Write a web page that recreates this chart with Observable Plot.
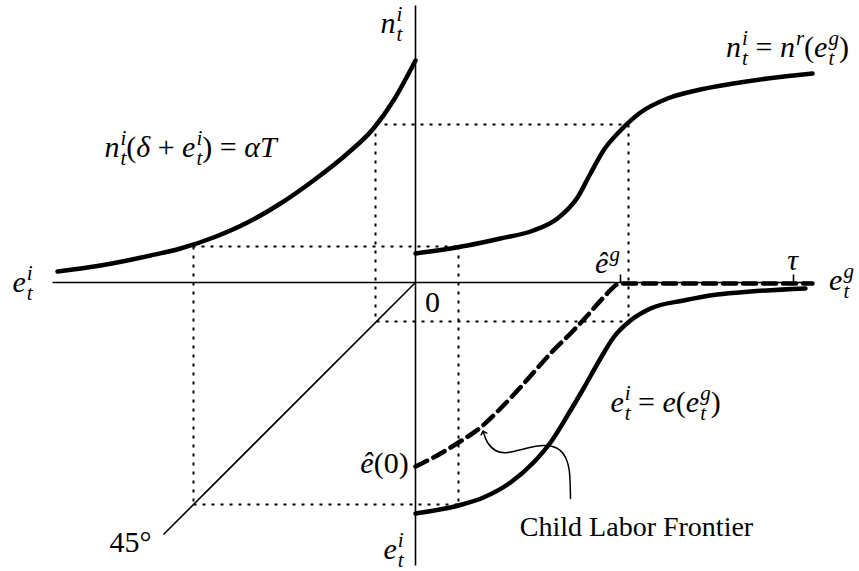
<!DOCTYPE html>
<html><head><meta charset="utf-8">
<script src="https://cdn.jsdelivr.net/npm/d3@7"></script>
<script src="https://cdn.jsdelivr.net/npm/@observablehq/plot@0.6"></script>
<style>body{margin:0;background:#fff}</style>
</head><body><div id="chart"></div>
<script>
// Upper-left quadrant: n(δ+e) = αT
const budgetX = [-358,-315,-265,-235,-202,-168,-135,-102,-68,-42,-22,0];
const budgetY = [11,17,27,34,45,60,79,102,129,154,182,222];
// Upper-right: n = n^r(e^g)
const fertilityX = [0,52,85,118,142,162,175,188,205,225,252,285,318,352,397];
const fertilityY = [29,37,44,52,64,85,109,132,152,170,184,193,199,204,209];
// Lower-right dashed: child labor frontier
const frontierX = [0,18,43,65,85,102,118,135,155,172,188,205,397];
const frontierY = [-184,-175,-160,-145,-126,-108,-90,-71,-51,-33,-15,-1,-1];
// Lower-right solid: e = e(e^g)
const educationX = [0,43,68,95,118,135,152,168,185,198,215,235,268,302,335,390];
const educationY = [-231,-223,-215,-200,-180,-160,-133,-106,-76,-55,-38,-26,-18,-12,-9,-6];
// annotation arrow
const arrowX = [155,154,150,142,128,110,92,80,72,68];
const arrowY = [-216,-190,-175,-166,-163,-166,-170,-168,-160,-150];
// axes, 45° line, ticks
const lineX1 = [-363, 0, 0, 205, 378];
const lineY1 = [0, -283, 0, 0, 0];
const lineX2 = [397, 0, -252, 205, 378];
const lineY2 = [0, 277, -252, 8, 8];
// dotted guides
const guideX1 = [-40,-40,-39,213,-223,-222,-222,43];
const guideY1 = [158,158,-39,158,36,36,-222,36];
const guideX2 = [213,-40,213,213,43,-222,43,43];
const guideY2 = [158,-39,-39,-39,36,-222,-222,-222];
// labels
const mathLabels = ["n_t^i","n_t^i(δ + e_t^i) = αT","e_t^i","n_t^i = n^r(e_t^g)","ê^g","τ","e_t^g","0","e_t^i = e(e_t^g)","ê(0)","e_t^i","45°"];
const mathX = [-24,-225,-393,372,192,377,426,17,250,-31,-22,-285];
const mathY = [259,135,0,235,19,22,2,-20,-120,-181,-267,-260];
const textLabels = ["Child Labor Frontier"];
const textX = [221];
const textY = [-245];

const pts = (xs, ys) => xs.map((x, i) => ({x, y: ys[i]}));
const segs = (a, b, c, d) => a.map((x1, i) => ({x1, y1: b[i], x2: c[i], y2: d[i]}));
const FONT = "Liberation Serif";
const FS = 30;

const chart = Plot.plot({
  width: 859, height: 571, margin: 0,
  x: {domain: [-415, 444], axis: null},
  y: {domain: [-289, 282], axis: null},
  marks: [
    Plot.link(segs(guideX1, guideY1, guideX2, guideY2), {x1: "x1", y1: "y1", x2: "x2", y2: "y2", stroke: "black", strokeWidth: 2, strokeDasharray: "3,6"}),
    Plot.link(segs(lineX1, lineY1, lineX2, lineY2), {x1: "x1", y1: "y1", x2: "x2", y2: "y2", stroke: "black", strokeWidth: 1.6}),
    Plot.line(pts(budgetX, budgetY), {x: "x", y: "y", curve: "monotone-x", stroke: "black", strokeWidth: 4.5, strokeLinecap: "round"}),
    Plot.line(pts(fertilityX, fertilityY), {x: "x", y: "y", curve: "monotone-x", stroke: "black", strokeWidth: 4.5, strokeLinecap: "round"}),
    Plot.line(pts(educationX, educationY), {x: "x", y: "y", curve: "monotone-x", stroke: "black", strokeWidth: 4.5, strokeLinecap: "round"}),
    Plot.line(pts(frontierX, frontierY), {x: "x", y: "y", curve: "monotone-x", stroke: "black", strokeWidth: 4.5, strokeDasharray: "13,7"}),
    Plot.line(pts(arrowX, arrowY), {x: "x", y: "y", curve: "natural", stroke: "black", strokeWidth: 1.5, markerEnd: "arrow"}),
    Plot.text(mathLabels.map((t, i) => ({t, x: mathX[i], y: mathY[i]})), {x: "x", y: "y", text: "t", fontFamily: FONT, fontSize: FS}),
    Plot.text(textLabels.map((t, i) => ({t, x: textX[i], y: textY[i]})), {x: "x", y: "y", text: "t", fontFamily: FONT, fontSize: 28})
  ]
});
document.getElementById("chart").appendChild(chart);

// --- minimal TeX-like typesetting of sub/superscripts ---
const NS = "http://www.w3.org/2000/svg";
const isIt = ch => /[A-Za-zα-ωΑ-Ωê]/.test(ch);
function parseTex(s) {
  const parts = []; let i = 0;
  const readArg = () => {
    if (s[i] === "{") { const j = s.indexOf("}", i); const a = s.slice(i + 1, j); i = j + 1; return a; }
    return s[i++];
  };
  while (i < s.length) {
    const c = s[i];
    if (c === "_" || c === "^") {
      let last = parts[parts.length - 1];
      if (!last || last.type !== "script") { last = {type: "script"}; parts.push(last); }
      i++; const a = readArg();
      if (c === "_") last.sub = a; else last.sup = a;
    } else {
      const it = isIt(c), last = parts[parts.length - 1];
      if (last && last.type === "base" && last.it === it) last.s += c;
      else parts.push({type: "base", s: c, it});
      i++;
    }
  }
  return parts;
}
function typeset(el, src, fs) {
  el.textContent = "";
  let base = 0, extra = 0;
  const add = (txt, it, size, off, dx0) => {
    const t = document.createElementNS(NS, "tspan");
    t.setAttribute("font-family", FONT);
    if (it) t.setAttribute("font-style", "italic");
    if (size) t.setAttribute("font-size", size.toFixed(1));
    const dy = off - base; base = off;
    if (dy) t.setAttribute("dy", dy.toFixed(2));
    const dx = (dx0 || 0) + extra; extra = 0;
    if (dx) t.setAttribute("dx", dx.toFixed(2));
    t.textContent = txt;
    el.appendChild(t);
    return t;
  };
  for (const p of parseTex(src)) {
    if (p.type === "base") add(p.s, p.it, null, 0, 0);
    else {
      const ss = fs * 0.7;
      let wSup = 0, wSub = 0;
      if (p.sup) { const t = add(p.sup, isIt(p.sup), ss, -0.42 * fs, 1); wSup = t.getComputedTextLength() + 1; }
      if (p.sub) { const t = add(p.sub, isIt(p.sub), ss, (p.sup ? 0.27 : 0.2) * fs, p.sup ? -wSup + 1 : 0); wSub = t.getComputedTextLength(); }
      if (p.sup && p.sub && wSup > wSub + 1) extra = wSup - wSub - 1;
    }
  }
}
const groups = chart.querySelectorAll('g[aria-label="text"]');
groups[0].querySelectorAll("text").forEach((el, i) => typeset(el, mathLabels[i], FS));
</script>
</body></html>
